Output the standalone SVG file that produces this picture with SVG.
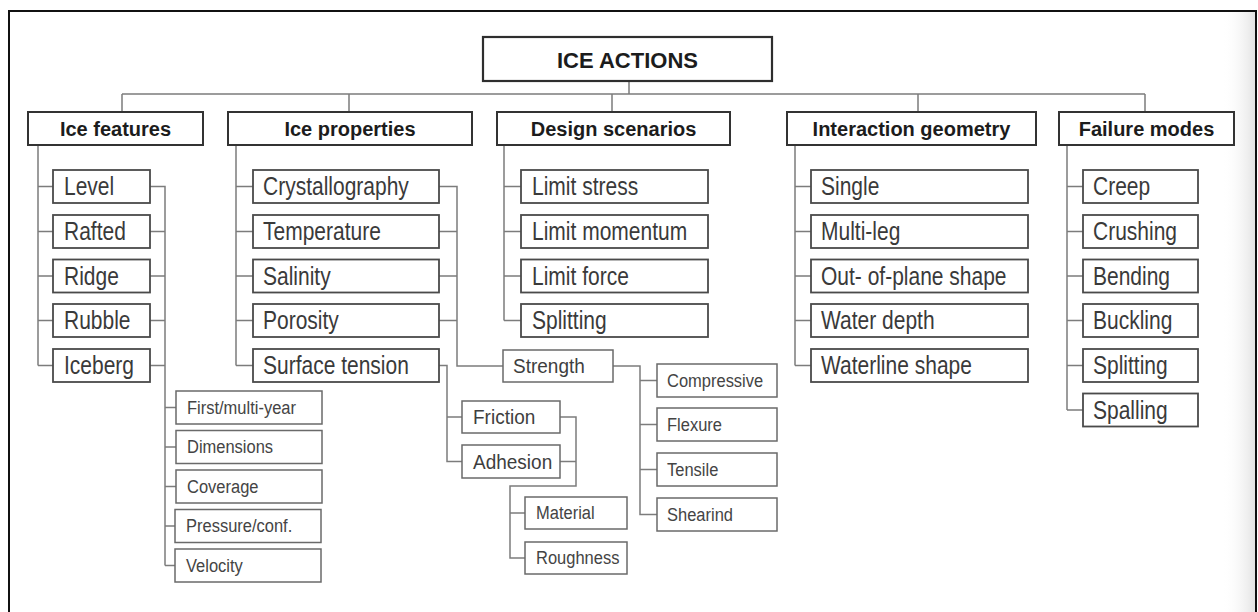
<svg xmlns="http://www.w3.org/2000/svg" width="1258" height="612" viewBox="0 0 1258 612">
<defs>
<linearGradient id="edge" x1="0" y1="0" x2="1" y2="0">
<stop offset="0" stop-color="#ffffff" stop-opacity="0"/>
<stop offset="1" stop-color="#e2e2e2"/>
</linearGradient>
</defs>
<style>
text{font-family:"Liberation Sans",Arial,sans-serif;}
.title{font-size:22px;font-weight:bold;fill:#1c1c1c;text-anchor:middle;}
.hd{font-size:20px;font-weight:bold;fill:#1c1c1c;text-anchor:middle;}
.c{font-size:21px;fill:#3a3a3a;transform:scaleY(1.2);transform-box:fill-box;transform-origin:center;}
.m{font-size:19px;fill:#3e3e3e;transform:scaleY(1.1);transform-box:fill-box;transform-origin:center;}
.s{font-size:16.5px;fill:#444;transform:scaleY(1.1);transform-box:fill-box;transform-origin:center;}
.bt{fill:#fff;stroke:#2e2e2e;stroke-width:2.2;}
.bh{fill:#fff;stroke:#333;stroke-width:2;}
.bc{fill:#fff;stroke:#4a4a4a;stroke-width:1.8;}
.bs{fill:#fff;stroke:#6a6a6a;stroke-width:1.5;}
.ln{fill:none;stroke:#7c7c7c;stroke-width:1.5;}
</style>
<rect x="0" y="0" width="1258" height="612" fill="#fff"/>
<rect x="1222" y="11" width="34" height="601" fill="url(#edge)"/>
<path d="M9,612 V11 H1256 V612" fill="none" stroke="#111" stroke-width="2"/>

<g id="connectors">
<path class="ln" d="M629,81 V94 M122,94 H1145 M122,94 V112 M349,94 V112 M612,94 V112 M918,94 V112 M1145,94 V112"/>
<path class="ln" d="M38,145 V365.5 M38,186.5 H53 M38,231.5 H53 M38,276 H53 M38,320.5 H53 M38,365.5 H53"/>
<path class="ln" d="M150,186.5 H165 V565.5 M150,231.5 H165 M150,276 H165 M150,320.5 H165 M150,365.5 H165 M165,407.5 H176 M165,447 H176 M165,486.5 H176 M165,526 H176 M165,565.5 H176"/>
<path class="ln" d="M236,145 V365.5 M236,186.5 H253 M236,231.5 H253 M236,276 H253 M236,320.5 H253 M236,365.5 H253"/>
<path class="ln" d="M439,186.5 H457 V366 H503 M439,231.5 H457 M439,276 H457 M439,320.5 H457"/>
<path class="ln" d="M439,365.5 H447 V461.5 H462 M447,417 H462"/>
<path class="ln" d="M560,417 H576 V486 H510 V558 H525 M560,461.5 H576 M510,513 H525"/>
<path class="ln" d="M613,366 H640 V514.5 H657 M640,380.5 H657 M640,424.5 H657 M640,469.5 H657"/>
<path class="ln" d="M504,145 V320.5 M504,186.5 H521 M504,231.5 H521 M504,276 H521 M504,320.5 H521"/>
<path class="ln" d="M795,145 V365.5 M795,186.5 H811 M795,231.5 H811 M795,276 H811 M795,320.5 H811 M795,365.5 H811"/>
<path class="ln" d="M1067,145 V410 M1067,186.5 H1083 M1067,231.5 H1083 M1067,276 H1083 M1067,320.5 H1083 M1067,365.5 H1083 M1067,410 H1083"/>
</g>

<g id="ice-actions"><rect class="bt" x="483" y="37" width="289" height="44"/><text class="title" x="627.5" y="67.5">ICE ACTIONS</text></g>

<g id="ice-features"><rect class="bh" x="28" y="112" width="175" height="33"/><text class="hd" x="115.5" y="136">Ice features</text></g>
<g id="ice-properties"><rect class="bh" x="228" y="112" width="244" height="33"/><text class="hd" x="350" y="136">Ice properties</text></g>
<g id="design-scenarios"><rect class="bh" x="497" y="112" width="233" height="33"/><text class="hd" x="613.5" y="136">Design scenarios</text></g>
<g id="interaction-geometry"><rect class="bh" x="787" y="112" width="249" height="33"/><text class="hd" x="911.5" y="136">Interaction geometry</text></g>
<g id="failure-modes"><rect class="bh" x="1059" y="112" width="175" height="33"/><text class="hd" x="1146.5" y="136">Failure modes</text></g>

<g id="level"><rect class="bc" x="53" y="170" width="97" height="33"/><text class="c" x="64" y="194">Level</text></g>
<g id="rafted"><rect class="bc" x="53" y="215" width="97" height="33"/><text class="c" x="64" y="239">Rafted</text></g>
<g id="ridge"><rect class="bc" x="53" y="259.5" width="97" height="33"/><text class="c" x="64" y="283.5">Ridge</text></g>
<g id="rubble"><rect class="bc" x="53" y="304" width="97" height="33"/><text class="c" x="64" y="328">Rubble</text></g>
<g id="iceberg"><rect class="bc" x="53" y="349" width="97" height="33"/><text class="c" x="64" y="373">Iceberg</text></g>

<g id="first-multi-year"><rect class="bs" x="176" y="391" width="146" height="33"/><text class="s" x="187" y="413.4">First/multi-year</text></g>
<g id="dimensions"><rect class="bs" x="176" y="430.5" width="146" height="33"/><text class="s" x="187" y="452.9">Dimensions</text></g>
<g id="coverage"><rect class="bs" x="176" y="470" width="146" height="33"/><text class="s" x="187" y="492.4">Coverage</text></g>
<g id="pressure-conf"><rect class="bs" x="175" y="509.5" width="146" height="33"/><text class="s" x="186" y="531.9">Pressure/conf.</text></g>
<g id="velocity"><rect class="bs" x="175" y="549" width="146" height="33"/><text class="s" x="186" y="571.4">Velocity</text></g>

<g id="crystallography"><rect class="bc" x="253" y="170" width="186" height="33"/><text class="c" x="263" y="194">Crystallography</text></g>
<g id="temperature"><rect class="bc" x="253" y="215" width="186" height="33"/><text class="c" x="263" y="239">Temperature</text></g>
<g id="salinity"><rect class="bc" x="253" y="259.5" width="186" height="33"/><text class="c" x="263" y="283.5">Salinity</text></g>
<g id="porosity"><rect class="bc" x="253" y="304" width="186" height="33"/><text class="c" x="263" y="328">Porosity</text></g>
<g id="surface-tension"><rect class="bc" x="253" y="349" width="186" height="33"/><text class="c" x="263" y="373">Surface tension</text></g>

<g id="strength"><rect class="bs" x="503" y="350" width="110" height="32"/><text class="m" x="513" y="372.8">Strength</text></g>
<g id="friction"><rect class="bs" x="462" y="401" width="98" height="32"/><text class="m" x="473" y="423.8">Friction</text></g>
<g id="adhesion"><rect class="bs" x="462" y="445" width="98" height="33"/><text class="m" x="473" y="468.3">Adhesion</text></g>
<g id="material"><rect class="bs" x="525" y="497" width="102" height="32"/><text class="s" x="536" y="518.9">Material</text></g>
<g id="roughness"><rect class="bs" x="525" y="542" width="102" height="32"/><text class="s" x="536" y="563.9">Roughness</text></g>

<g id="compressive"><rect class="bs" x="657" y="364" width="120" height="33"/><text class="s" x="667" y="386.4">Compressive</text></g>
<g id="flexure"><rect class="bs" x="657" y="408" width="120" height="33"/><text class="s" x="667" y="430.4">Flexure</text></g>
<g id="tensile"><rect class="bs" x="657" y="453" width="120" height="33"/><text class="s" x="667" y="475.4">Tensile</text></g>
<g id="shearind"><rect class="bs" x="657" y="498" width="120" height="33"/><text class="s" x="667" y="520.4">Shearind</text></g>

<g id="limit-stress"><rect class="bc" x="521" y="170" width="187" height="33"/><text class="c" x="532" y="194">Limit stress</text></g>
<g id="limit-momentum"><rect class="bc" x="521" y="215" width="187" height="33"/><text class="c" x="532" y="239">Limit momentum</text></g>
<g id="limit-force"><rect class="bc" x="521" y="259.5" width="187" height="33"/><text class="c" x="532" y="283.5">Limit force</text></g>
<g id="splitting-ds"><rect class="bc" x="521" y="304" width="187" height="33"/><text class="c" x="532" y="328">Splitting</text></g>

<g id="single"><rect class="bc" x="811" y="170" width="217" height="33"/><text class="c" x="821" y="194">Single</text></g>
<g id="multi-leg"><rect class="bc" x="811" y="215" width="217" height="33"/><text class="c" x="821" y="239">Multi-leg</text></g>
<g id="out-of-plane"><rect class="bc" x="811" y="259.5" width="217" height="33"/><text class="c" x="821" y="283.5">Out- of-plane shape</text></g>
<g id="water-depth"><rect class="bc" x="811" y="304" width="217" height="33"/><text class="c" x="821" y="328">Water depth</text></g>
<g id="waterline-shape"><rect class="bc" x="811" y="349" width="217" height="33"/><text class="c" x="821" y="373">Waterline shape</text></g>

<g id="creep"><rect class="bc" x="1083" y="170" width="115" height="33"/><text class="c" x="1093" y="194">Creep</text></g>
<g id="crushing"><rect class="bc" x="1083" y="215" width="115" height="33"/><text class="c" x="1093" y="239">Crushing</text></g>
<g id="bending"><rect class="bc" x="1083" y="259.5" width="115" height="33"/><text class="c" x="1093" y="283.5">Bending</text></g>
<g id="buckling"><rect class="bc" x="1083" y="304" width="115" height="33"/><text class="c" x="1093" y="328">Buckling</text></g>
<g id="splitting-fm"><rect class="bc" x="1083" y="349" width="115" height="33"/><text class="c" x="1093" y="373">Splitting</text></g>
<g id="spalling"><rect class="bc" x="1083" y="393.5" width="115" height="33"/><text class="c" x="1093" y="417.5">Spalling</text></g>
</svg>
